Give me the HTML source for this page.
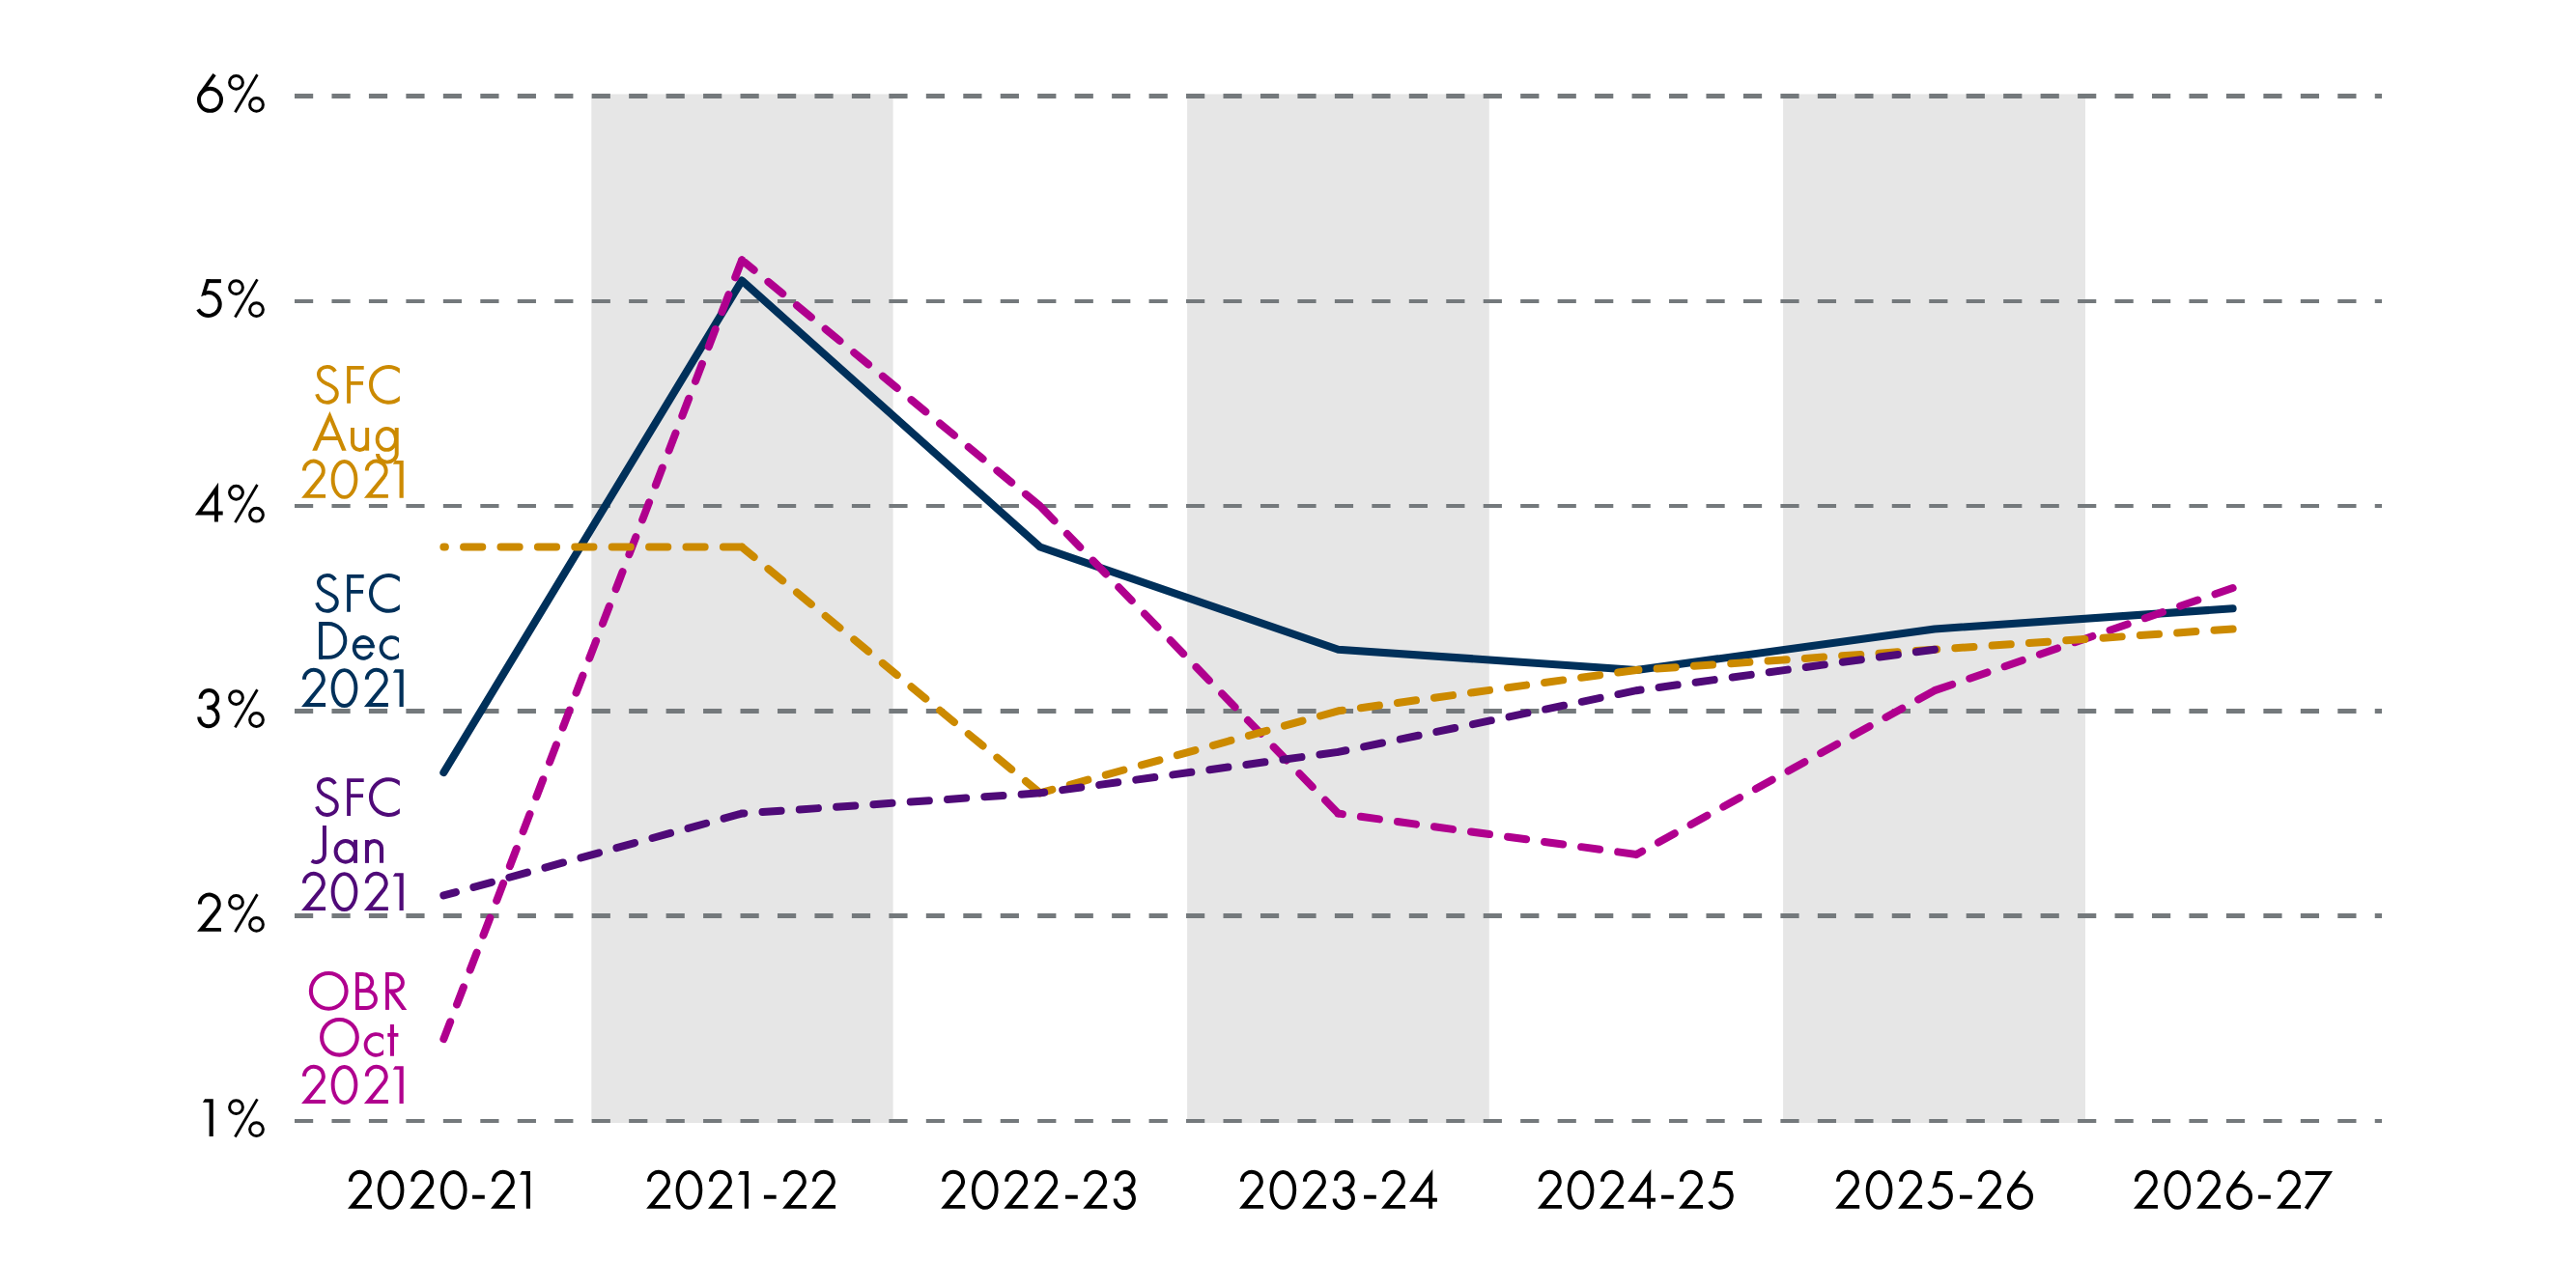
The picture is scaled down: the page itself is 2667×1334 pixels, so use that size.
<!DOCTYPE html>
<html><head><meta charset="utf-8"><style>html,body{margin:0;padding:0;background:#fff;overflow:hidden;font-family:"Liberation Sans",sans-serif}svg{display:block}</style></head><body>
<svg width="2667" height="1334" viewBox="0 0 2667 1334">
<rect x="0" y="0" width="2667" height="1334" fill="#ffffff"/>
<rect x="612.3" y="97.5" width="312.30" height="1065.5" fill="#e6e6e6"/>
<rect x="1229.1" y="97.5" width="312.70" height="1065.5" fill="#e6e6e6"/>
<rect x="1846.1" y="97.5" width="312.90" height="1065.5" fill="#e6e6e6"/>
<line x1="305.0" y1="99.50" x2="2466.0" y2="99.50" stroke="#74797c" stroke-width="5" stroke-dasharray="19.2 19.26"/>
<line x1="305.0" y1="312.00" x2="2466.0" y2="312.00" stroke="#74797c" stroke-width="4" stroke-dasharray="19.2 19.26"/>
<line x1="305.0" y1="524.00" x2="2466.0" y2="524.00" stroke="#74797c" stroke-width="4" stroke-dasharray="19.2 19.26"/>
<line x1="305.0" y1="736.50" x2="2466.0" y2="736.50" stroke="#74797c" stroke-width="5" stroke-dasharray="19.2 19.26"/>
<line x1="305.0" y1="948.50" x2="2466.0" y2="948.50" stroke="#74797c" stroke-width="5" stroke-dasharray="19.2 19.26"/>
<line x1="305.0" y1="1161.00" x2="2466.0" y2="1161.00" stroke="#74797c" stroke-width="4" stroke-dasharray="19.2 19.26"/>
<path d="M459.36,800.09 L768.07,290.57 L1076.79,566.56 L1385.50,672.71 L1694.21,693.94 L2002.93,651.48 L2311.64,630.25" fill="none" stroke="#00305a" stroke-width="8" stroke-linecap="round" stroke-linejoin="round"/>
<path d="M768.07,269.34 L459.36,1076.08 M1076.79,524.10 L768.07,269.34 M1385.50,842.55 L1076.79,524.10 M1694.21,885.01 L1385.50,842.55 M2002.93,715.17 L1694.21,885.01 M2311.64,609.02 L2002.93,715.17" fill="none" stroke="#b0008e" stroke-width="8" stroke-linecap="round" stroke-linejoin="round" stroke-dasharray="19.2 19.2"/>
<path d="M768.07,566.56 L459.36,566.56 M1076.79,821.32 L768.07,566.56 M1385.50,736.40 L1076.79,821.32 M1694.21,693.94 L1385.50,736.40 M2002.93,672.71 L1694.21,693.94 M2311.64,651.48 L2002.93,672.71" fill="none" stroke="#cc8a00" stroke-width="8" stroke-linecap="round" stroke-linejoin="round" stroke-dasharray="19.2 19.2"/>
<path d="M768.07,842.55 L459.36,927.47 M1076.79,821.32 L768.07,842.55 M1385.50,778.86 L1076.79,821.32 M1694.21,715.17 L1385.50,778.86 M2002.93,672.71 L1694.21,715.17" fill="none" stroke="#4f0a78" stroke-width="8" stroke-linecap="round" stroke-linejoin="round" stroke-dasharray="19.2 19.2"/>
<g>
<path transform="translate(204.00,115.80)" d="M1.95,-12.45 A11.55,11.55 0 1 0 25.05,-12.45 A11.55,11.55 0 1 0 1.95,-12.45 Z" fill="none" stroke="#000" stroke-width="3.9"/>
<path transform="translate(204.00,115.80)" d="M18.05,-38.64 L4.12,-19.18" fill="none" stroke="#000" stroke-width="3.9"/>
<path transform="translate(236.10,115.80)" d="M1.50,-30.37 A6.90,6.90 0 1 0 15.30,-30.37 A6.90,6.90 0 1 0 1.50,-30.37 Z" fill="none" stroke="#000" stroke-width="3.0"/>
<path transform="translate(236.10,115.80)" d="M22.50,-7.40 A6.90,6.90 0 1 0 36.30,-7.40 A6.90,6.90 0 1 0 22.50,-7.40 Z" fill="none" stroke="#000" stroke-width="3.0"/>
<path transform="translate(236.10,115.80)" d="M30.3,-38.6 L7.3,0.5" fill="none" stroke="#000" stroke-width="2.8"/>
<path transform="translate(203.00,328.00)" d="M10.65,-38.85 H25.90 V-34.89 H10.65 Z" fill="#000" fill-rule="evenodd"/>
<path transform="translate(203.00,328.00)" d="M10.65,-38.85 L14.85,-38.85 L9.60,-22.80 L5.15,-20.69 Z" fill="#000" fill-rule="evenodd"/>
<path transform="translate(203.00,328.00)" d="M7.9,-23.2 C9.3,-24.4 10.9,-24.95 12.8,-24.95 A11.95,11.95 0 1 1 2.15,-7.57" fill="none" stroke="#000" stroke-width="4.0"/>
<path transform="translate(236.10,328.00)" d="M1.50,-30.37 A6.90,6.90 0 1 0 15.30,-30.37 A6.90,6.90 0 1 0 1.50,-30.37 Z" fill="none" stroke="#000" stroke-width="3.0"/>
<path transform="translate(236.10,328.00)" d="M22.50,-7.40 A6.90,6.90 0 1 0 36.30,-7.40 A6.90,6.90 0 1 0 22.50,-7.40 Z" fill="none" stroke="#000" stroke-width="3.0"/>
<path transform="translate(236.10,328.00)" d="M30.3,-38.6 L7.3,0.5" fill="none" stroke="#000" stroke-width="2.8"/>
<path transform="translate(201.90,540.60)" d="M0.00,-7.20 L24.20,-40.74 L24.00,-11.00 L28.80,-11.00 L28.80,-7.20 L24.00,-7.20 L24.00,0.00 L20.05,0.00 L20.05,-7.20 Z M7.50,-11.00 L20.05,-28.60 L20.05,-11.00 Z" fill="#000" fill-rule="evenodd"/>
<path transform="translate(236.10,540.60)" d="M1.50,-30.37 A6.90,6.90 0 1 0 15.30,-30.37 A6.90,6.90 0 1 0 1.50,-30.37 Z" fill="none" stroke="#000" stroke-width="3.0"/>
<path transform="translate(236.10,540.60)" d="M22.50,-7.40 A6.90,6.90 0 1 0 36.30,-7.40 A6.90,6.90 0 1 0 22.50,-7.40 Z" fill="none" stroke="#000" stroke-width="3.0"/>
<path transform="translate(236.10,540.60)" d="M30.3,-38.6 L7.3,0.5" fill="none" stroke="#000" stroke-width="2.8"/>
<path transform="translate(204.20,752.90)" d="M3.4,-29.05 A8.8,8.8 0 1 1 12.2,-20.25 L10.3,-20.15" fill="none" stroke="#000" stroke-width="3.95"/>
<path transform="translate(204.20,752.90)" d="M10.3,-20.05 L11.7,-20.05 A9.65,9.65 0 1 1 2.05,-10.4" fill="none" stroke="#000" stroke-width="3.95"/>
<path transform="translate(236.10,752.90)" d="M1.50,-30.37 A6.90,6.90 0 1 0 15.30,-30.37 A6.90,6.90 0 1 0 1.50,-30.37 Z" fill="none" stroke="#000" stroke-width="3.0"/>
<path transform="translate(236.10,752.90)" d="M22.50,-7.40 A6.90,6.90 0 1 0 36.30,-7.40 A6.90,6.90 0 1 0 22.50,-7.40 Z" fill="none" stroke="#000" stroke-width="3.0"/>
<path transform="translate(236.10,752.90)" d="M30.3,-38.6 L7.3,0.5" fill="none" stroke="#000" stroke-width="2.8"/>
<path transform="translate(204.00,964.80)" d="M2.88,-28.18 A9.95,9.95 0 1 1 20.40,-21.72" fill="none" stroke="#000" stroke-width="3.95"/>
<path transform="translate(204.00,964.80)" d="M19.11,-23.27 L22.23,-20.84 L8.75,-3.83 L25.00,-3.83 L25.00,0.00 L0.00,0.00 Z" fill="#000" fill-rule="evenodd"/>
<path transform="translate(236.10,964.80)" d="M1.50,-30.37 A6.90,6.90 0 1 0 15.30,-30.37 A6.90,6.90 0 1 0 1.50,-30.37 Z" fill="none" stroke="#000" stroke-width="3.0"/>
<path transform="translate(236.10,964.80)" d="M22.50,-7.40 A6.90,6.90 0 1 0 36.30,-7.40 A6.90,6.90 0 1 0 22.50,-7.40 Z" fill="none" stroke="#000" stroke-width="3.0"/>
<path transform="translate(236.10,964.80)" d="M30.3,-38.6 L7.3,0.5" fill="none" stroke="#000" stroke-width="2.8"/>
<path transform="translate(209.90,1177.00)" d="M0.00,-35.14 L2.20,-38.77 L10.90,-38.77 L10.90,0.00 L6.70,0.00 L6.70,-35.14 Z" fill="#000" fill-rule="evenodd"/>
<path transform="translate(236.10,1177.00)" d="M1.50,-30.37 A6.90,6.90 0 1 0 15.30,-30.37 A6.90,6.90 0 1 0 1.50,-30.37 Z" fill="none" stroke="#000" stroke-width="3.0"/>
<path transform="translate(236.10,1177.00)" d="M22.50,-7.40 A6.90,6.90 0 1 0 36.30,-7.40 A6.90,6.90 0 1 0 22.50,-7.40 Z" fill="none" stroke="#000" stroke-width="3.0"/>
<path transform="translate(236.10,1177.00)" d="M30.3,-38.6 L7.3,0.5" fill="none" stroke="#000" stroke-width="2.8"/>
<path transform="translate(360.00,1251.84)" d="M2.88,-28.18 A9.95,9.95 0 1 1 20.40,-21.72" fill="none" stroke="#000" stroke-width="3.95"/>
<path transform="translate(360.00,1251.84)" d="M19.11,-23.27 L22.23,-20.84 L8.75,-3.83 L25.00,-3.83 L25.00,0.00 L0.00,0.00 Z" fill="#000" fill-rule="evenodd"/>
<path transform="translate(390.70,1251.84)" d="M1.95,-19.39 A11.90,18.45 0 1 0 25.75,-19.39 A11.90,18.45 0 1 0 1.95,-19.39 Z" fill="none" stroke="#000" stroke-width="3.9"/>
<path transform="translate(424.35,1251.84)" d="M2.88,-28.18 A9.95,9.95 0 1 1 20.40,-21.72" fill="none" stroke="#000" stroke-width="3.95"/>
<path transform="translate(424.35,1251.84)" d="M19.11,-23.27 L22.23,-20.84 L8.75,-3.83 L25.00,-3.83 L25.00,0.00 L0.00,0.00 Z" fill="#000" fill-rule="evenodd"/>
<path transform="translate(455.85,1251.84)" d="M1.95,-19.39 A11.90,18.45 0 1 0 25.75,-19.39 A11.90,18.45 0 1 0 1.95,-19.39 Z" fill="none" stroke="#000" stroke-width="3.9"/>
<path transform="translate(489.05,1251.84)" d="M0.00,-14.10 H12.75 V-10.10 H0.00 Z" fill="#000" fill-rule="evenodd"/>
<path transform="translate(508.00,1251.84)" d="M2.88,-28.18 A9.95,9.95 0 1 1 20.40,-21.72" fill="none" stroke="#000" stroke-width="3.95"/>
<path transform="translate(508.00,1251.84)" d="M19.11,-23.27 L22.23,-20.84 L8.75,-3.83 L25.00,-3.83 L25.00,0.00 L0.00,0.00 Z" fill="#000" fill-rule="evenodd"/>
<path transform="translate(538.10,1251.84)" d="M0.00,-35.14 L2.20,-38.77 L10.90,-38.77 L10.90,0.00 L6.70,0.00 L6.70,-35.14 Z" fill="#000" fill-rule="evenodd"/>
<path transform="translate(669.14,1251.84)" d="M2.88,-28.18 A9.95,9.95 0 1 1 20.40,-21.72" fill="none" stroke="#000" stroke-width="3.95"/>
<path transform="translate(669.14,1251.84)" d="M19.11,-23.27 L22.23,-20.84 L8.75,-3.83 L25.00,-3.83 L25.00,0.00 L0.00,0.00 Z" fill="#000" fill-rule="evenodd"/>
<path transform="translate(699.60,1251.84)" d="M1.95,-19.39 A11.90,18.45 0 1 0 25.75,-19.39 A11.90,18.45 0 1 0 1.95,-19.39 Z" fill="none" stroke="#000" stroke-width="3.9"/>
<path transform="translate(733.04,1251.84)" d="M2.88,-28.18 A9.95,9.95 0 1 1 20.40,-21.72" fill="none" stroke="#000" stroke-width="3.95"/>
<path transform="translate(733.04,1251.84)" d="M19.11,-23.27 L22.23,-20.84 L8.75,-3.83 L25.00,-3.83 L25.00,0.00 L0.00,0.00 Z" fill="#000" fill-rule="evenodd"/>
<path transform="translate(764.08,1251.84)" d="M0.00,-35.14 L2.20,-38.77 L10.90,-38.77 L10.90,0.00 L6.70,0.00 L6.70,-35.14 Z" fill="#000" fill-rule="evenodd"/>
<path transform="translate(790.90,1251.84)" d="M0.00,-14.10 H12.75 V-10.10 H0.00 Z" fill="#000" fill-rule="evenodd"/>
<path transform="translate(810.00,1251.84)" d="M2.88,-28.18 A9.95,9.95 0 1 1 20.40,-21.72" fill="none" stroke="#000" stroke-width="3.95"/>
<path transform="translate(810.00,1251.84)" d="M19.11,-23.27 L22.23,-20.84 L8.75,-3.83 L25.00,-3.83 L25.00,0.00 L0.00,0.00 Z" fill="#000" fill-rule="evenodd"/>
<path transform="translate(840.07,1251.84)" d="M2.88,-28.18 A9.95,9.95 0 1 1 20.40,-21.72" fill="none" stroke="#000" stroke-width="3.95"/>
<path transform="translate(840.07,1251.84)" d="M19.11,-23.27 L22.23,-20.84 L8.75,-3.83 L25.00,-3.83 L25.00,0.00 L0.00,0.00 Z" fill="#000" fill-rule="evenodd"/>
<path transform="translate(974.24,1251.84)" d="M2.88,-28.18 A9.95,9.95 0 1 1 20.40,-21.72" fill="none" stroke="#000" stroke-width="3.95"/>
<path transform="translate(974.24,1251.84)" d="M19.11,-23.27 L22.23,-20.84 L8.75,-3.83 L25.00,-3.83 L25.00,0.00 L0.00,0.00 Z" fill="#000" fill-rule="evenodd"/>
<path transform="translate(1005.87,1251.84)" d="M1.95,-19.39 A11.90,18.45 0 1 0 25.75,-19.39 A11.90,18.45 0 1 0 1.95,-19.39 Z" fill="none" stroke="#000" stroke-width="3.9"/>
<path transform="translate(1039.29,1251.84)" d="M2.88,-28.18 A9.95,9.95 0 1 1 20.40,-21.72" fill="none" stroke="#000" stroke-width="3.95"/>
<path transform="translate(1039.29,1251.84)" d="M19.11,-23.27 L22.23,-20.84 L8.75,-3.83 L25.00,-3.83 L25.00,0.00 L0.00,0.00 Z" fill="#000" fill-rule="evenodd"/>
<path transform="translate(1070.27,1251.84)" d="M2.88,-28.18 A9.95,9.95 0 1 1 20.40,-21.72" fill="none" stroke="#000" stroke-width="3.95"/>
<path transform="translate(1070.27,1251.84)" d="M19.11,-23.27 L22.23,-20.84 L8.75,-3.83 L25.00,-3.83 L25.00,0.00 L0.00,0.00 Z" fill="#000" fill-rule="evenodd"/>
<path transform="translate(1103.04,1251.84)" d="M0.00,-14.10 H12.75 V-10.10 H0.00 Z" fill="#000" fill-rule="evenodd"/>
<path transform="translate(1121.22,1251.84)" d="M2.88,-28.18 A9.95,9.95 0 1 1 20.40,-21.72" fill="none" stroke="#000" stroke-width="3.95"/>
<path transform="translate(1121.22,1251.84)" d="M19.11,-23.27 L22.23,-20.84 L8.75,-3.83 L25.00,-3.83 L25.00,0.00 L0.00,0.00 Z" fill="#000" fill-rule="evenodd"/>
<path transform="translate(1152.60,1251.84)" d="M3.4,-29.05 A8.8,8.8 0 1 1 12.2,-20.25 L10.3,-20.15" fill="none" stroke="#000" stroke-width="3.95"/>
<path transform="translate(1152.60,1251.84)" d="M10.3,-20.05 L11.7,-20.05 A9.65,9.65 0 1 1 2.05,-10.4" fill="none" stroke="#000" stroke-width="3.95"/>
<path transform="translate(1283.03,1251.84)" d="M2.88,-28.18 A9.95,9.95 0 1 1 20.40,-21.72" fill="none" stroke="#000" stroke-width="3.95"/>
<path transform="translate(1283.03,1251.84)" d="M19.11,-23.27 L22.23,-20.84 L8.75,-3.83 L25.00,-3.83 L25.00,0.00 L0.00,0.00 Z" fill="#000" fill-rule="evenodd"/>
<path transform="translate(1314.50,1251.84)" d="M1.95,-19.39 A11.90,18.45 0 1 0 25.75,-19.39 A11.90,18.45 0 1 0 1.95,-19.39 Z" fill="none" stroke="#000" stroke-width="3.9"/>
<path transform="translate(1348.03,1251.84)" d="M2.88,-28.18 A9.95,9.95 0 1 1 20.40,-21.72" fill="none" stroke="#000" stroke-width="3.95"/>
<path transform="translate(1348.03,1251.84)" d="M19.11,-23.27 L22.23,-20.84 L8.75,-3.83 L25.00,-3.83 L25.00,0.00 L0.00,0.00 Z" fill="#000" fill-rule="evenodd"/>
<path transform="translate(1379.60,1251.84)" d="M3.4,-29.05 A8.8,8.8 0 1 1 12.2,-20.25 L10.3,-20.15" fill="none" stroke="#000" stroke-width="3.95"/>
<path transform="translate(1379.60,1251.84)" d="M10.3,-20.05 L11.7,-20.05 A9.65,9.65 0 1 1 2.05,-10.4" fill="none" stroke="#000" stroke-width="3.95"/>
<path transform="translate(1412.07,1251.84)" d="M0.00,-14.10 H12.75 V-10.10 H0.00 Z" fill="#000" fill-rule="evenodd"/>
<path transform="translate(1430.03,1251.84)" d="M2.88,-28.18 A9.95,9.95 0 1 1 20.40,-21.72" fill="none" stroke="#000" stroke-width="3.95"/>
<path transform="translate(1430.03,1251.84)" d="M19.11,-23.27 L22.23,-20.84 L8.75,-3.83 L25.00,-3.83 L25.00,0.00 L0.00,0.00 Z" fill="#000" fill-rule="evenodd"/>
<path transform="translate(1459.10,1251.84)" d="M0.00,-7.20 L24.20,-40.74 L24.00,-11.00 L28.80,-11.00 L28.80,-7.20 L24.00,-7.20 L24.00,0.00 L20.05,0.00 L20.05,-7.20 Z M7.50,-11.00 L20.05,-28.60 L20.05,-11.00 Z" fill="#000" fill-rule="evenodd"/>
<path transform="translate(1591.93,1251.84)" d="M2.88,-28.18 A9.95,9.95 0 1 1 20.40,-21.72" fill="none" stroke="#000" stroke-width="3.95"/>
<path transform="translate(1591.93,1251.84)" d="M19.11,-23.27 L22.23,-20.84 L8.75,-3.83 L25.00,-3.83 L25.00,0.00 L0.00,0.00 Z" fill="#000" fill-rule="evenodd"/>
<path transform="translate(1622.71,1251.84)" d="M1.95,-19.39 A11.90,18.45 0 1 0 25.75,-19.39 A11.90,18.45 0 1 0 1.95,-19.39 Z" fill="none" stroke="#000" stroke-width="3.9"/>
<path transform="translate(1656.14,1251.84)" d="M2.88,-28.18 A9.95,9.95 0 1 1 20.40,-21.72" fill="none" stroke="#000" stroke-width="3.95"/>
<path transform="translate(1656.14,1251.84)" d="M19.11,-23.27 L22.23,-20.84 L8.75,-3.83 L25.00,-3.83 L25.00,0.00 L0.00,0.00 Z" fill="#000" fill-rule="evenodd"/>
<path transform="translate(1685.10,1251.84)" d="M0.00,-7.20 L24.20,-40.74 L24.00,-11.00 L28.80,-11.00 L28.80,-7.20 L24.00,-7.20 L24.00,0.00 L20.05,0.00 L20.05,-7.20 Z M7.50,-11.00 L20.05,-28.60 L20.05,-11.00 Z" fill="#000" fill-rule="evenodd"/>
<path transform="translate(1720.05,1251.84)" d="M0.00,-14.10 H12.75 V-10.10 H0.00 Z" fill="#000" fill-rule="evenodd"/>
<path transform="translate(1738.00,1251.84)" d="M2.88,-28.18 A9.95,9.95 0 1 1 20.40,-21.72" fill="none" stroke="#000" stroke-width="3.95"/>
<path transform="translate(1738.00,1251.84)" d="M19.11,-23.27 L22.23,-20.84 L8.75,-3.83 L25.00,-3.83 L25.00,0.00 L0.00,0.00 Z" fill="#000" fill-rule="evenodd"/>
<path transform="translate(1768.00,1251.84)" d="M10.65,-38.85 H25.90 V-34.89 H10.65 Z" fill="#000" fill-rule="evenodd"/>
<path transform="translate(1768.00,1251.84)" d="M10.65,-38.85 L14.85,-38.85 L9.60,-22.80 L5.15,-20.69 Z" fill="#000" fill-rule="evenodd"/>
<path transform="translate(1768.00,1251.84)" d="M7.9,-23.2 C9.3,-24.4 10.9,-24.95 12.8,-24.95 A11.95,11.95 0 1 1 2.15,-7.57" fill="none" stroke="#000" stroke-width="4.0"/>
<path transform="translate(1900.17,1251.84)" d="M2.88,-28.18 A9.95,9.95 0 1 1 20.40,-21.72" fill="none" stroke="#000" stroke-width="3.95"/>
<path transform="translate(1900.17,1251.84)" d="M19.11,-23.27 L22.23,-20.84 L8.75,-3.83 L25.00,-3.83 L25.00,0.00 L0.00,0.00 Z" fill="#000" fill-rule="evenodd"/>
<path transform="translate(1931.73,1251.84)" d="M1.95,-19.39 A11.90,18.45 0 1 0 25.75,-19.39 A11.90,18.45 0 1 0 1.95,-19.39 Z" fill="none" stroke="#000" stroke-width="3.9"/>
<path transform="translate(1965.10,1251.84)" d="M2.88,-28.18 A9.95,9.95 0 1 1 20.40,-21.72" fill="none" stroke="#000" stroke-width="3.95"/>
<path transform="translate(1965.10,1251.84)" d="M19.11,-23.27 L22.23,-20.84 L8.75,-3.83 L25.00,-3.83 L25.00,0.00 L0.00,0.00 Z" fill="#000" fill-rule="evenodd"/>
<path transform="translate(1995.16,1251.84)" d="M10.65,-38.85 H25.90 V-34.89 H10.65 Z" fill="#000" fill-rule="evenodd"/>
<path transform="translate(1995.16,1251.84)" d="M10.65,-38.85 L14.85,-38.85 L9.60,-22.80 L5.15,-20.69 Z" fill="#000" fill-rule="evenodd"/>
<path transform="translate(1995.16,1251.84)" d="M7.9,-23.2 C9.3,-24.4 10.9,-24.95 12.8,-24.95 A11.95,11.95 0 1 1 2.15,-7.57" fill="none" stroke="#000" stroke-width="4.0"/>
<path transform="translate(2028.97,1251.84)" d="M0.00,-14.10 H12.75 V-10.10 H0.00 Z" fill="#000" fill-rule="evenodd"/>
<path transform="translate(2047.09,1251.84)" d="M2.88,-28.18 A9.95,9.95 0 1 1 20.40,-21.72" fill="none" stroke="#000" stroke-width="3.95"/>
<path transform="translate(2047.09,1251.84)" d="M19.11,-23.27 L22.23,-20.84 L8.75,-3.83 L25.00,-3.83 L25.00,0.00 L0.00,0.00 Z" fill="#000" fill-rule="evenodd"/>
<path transform="translate(2077.97,1251.84)" d="M1.95,-12.45 A11.55,11.55 0 1 0 25.05,-12.45 A11.55,11.55 0 1 0 1.95,-12.45 Z" fill="none" stroke="#000" stroke-width="3.9"/>
<path transform="translate(2077.97,1251.84)" d="M18.05,-38.64 L4.12,-19.18" fill="none" stroke="#000" stroke-width="3.9"/>
<path transform="translate(2208.97,1251.84)" d="M2.88,-28.18 A9.95,9.95 0 1 1 20.40,-21.72" fill="none" stroke="#000" stroke-width="3.95"/>
<path transform="translate(2208.97,1251.84)" d="M19.11,-23.27 L22.23,-20.84 L8.75,-3.83 L25.00,-3.83 L25.00,0.00 L0.00,0.00 Z" fill="#000" fill-rule="evenodd"/>
<path transform="translate(2240.56,1251.84)" d="M1.95,-19.39 A11.90,18.45 0 1 0 25.75,-19.39 A11.90,18.45 0 1 0 1.95,-19.39 Z" fill="none" stroke="#000" stroke-width="3.9"/>
<path transform="translate(2274.08,1251.84)" d="M2.88,-28.18 A9.95,9.95 0 1 1 20.40,-21.72" fill="none" stroke="#000" stroke-width="3.95"/>
<path transform="translate(2274.08,1251.84)" d="M19.11,-23.27 L22.23,-20.84 L8.75,-3.83 L25.00,-3.83 L25.00,0.00 L0.00,0.00 Z" fill="#000" fill-rule="evenodd"/>
<path transform="translate(2305.00,1251.84)" d="M1.95,-12.45 A11.55,11.55 0 1 0 25.05,-12.45 A11.55,11.55 0 1 0 1.95,-12.45 Z" fill="none" stroke="#000" stroke-width="3.9"/>
<path transform="translate(2305.00,1251.84)" d="M18.05,-38.64 L4.12,-19.18" fill="none" stroke="#000" stroke-width="3.9"/>
<path transform="translate(2338.10,1251.84)" d="M0.00,-14.10 H12.75 V-10.10 H0.00 Z" fill="#000" fill-rule="evenodd"/>
<path transform="translate(2357.05,1251.84)" d="M2.88,-28.18 A9.95,9.95 0 1 1 20.40,-21.72" fill="none" stroke="#000" stroke-width="3.95"/>
<path transform="translate(2357.05,1251.84)" d="M19.11,-23.27 L22.23,-20.84 L8.75,-3.83 L25.00,-3.83 L25.00,0.00 L0.00,0.00 Z" fill="#000" fill-rule="evenodd"/>
<path transform="translate(2385.90,1251.84)" d="M0.80,-38.84 L29.15,-38.84 L3.50,0.96 L0.00,-1.14 L22.20,-34.89 L0.80,-34.89 Z" fill="#000" fill-rule="evenodd"/>
<path transform="translate(326.04,417.75)" d="M20.96,-33.02 C19.2,-36.2 16.2,-37.92 12.76,-37.92 C7.6,-37.92 3.86,-34.5 3.86,-30.02 C3.86,-25.0 7.5,-22.6 12.26,-20.32 C17.5,-17.8 22.76,-15.6 22.76,-10.32 C22.76,-4.8 18.2,-0.92 12.46,-0.92 C7.6,-0.92 3.6,-4.3 2.01,-9.52" fill="none" stroke="#cc8a00" stroke-width="3.9"/>
<path transform="translate(359.14,417.75)" d="M0.00,-38.75 L17.56,-38.75 L17.56,-35.00 L3.84,-35.00 L3.84,-22.82 L16.86,-22.82 L16.86,-18.97 L3.84,-18.97 L3.84,0.00 L0.00,0.00 Z" fill="#cc8a00" fill-rule="evenodd"/>
<path transform="translate(381.95,417.75)" d="M31.90,-36.23 A20.40,20.40 0 1 0 31.90,-2.53 L31.90,-7.76 A16.35,16.35 0 1 1 31.90,-31.00 Z" fill="#cc8a00" fill-rule="evenodd"/>
<path transform="translate(323.23,466.72)" d="M0.00,0.00 L18.24,-40.76 L35.44,0.00 L30.82,0.00 L26.46,-10.69 L9.57,-10.69 L4.97,0.00 Z M18.24,-30.82 L24.84,-14.66 L11.28,-14.66 Z" fill="#cc8a00" fill-rule="evenodd"/>
<path transform="translate(362.99,466.72)" d="M1.99,-23.76 L1.99,-8.33 A7.58,7.58 0 0 0 17.15,-8.33" fill="none" stroke="#cc8a00" stroke-width="3.98"/>
<path transform="translate(362.99,466.72)" d="M17.15,-23.76 L17.15,0" fill="none" stroke="#cc8a00" stroke-width="3.98"/>
<path transform="translate(388.84,466.72)" d="M1.76,-11.82 A9.70,11.00 0 1 0 21.16,-11.82 A9.70,11.00 0 1 0 1.76,-11.82 Z" fill="none" stroke="#cc8a00" stroke-width="3.8"/>
<path transform="translate(388.84,466.72)" d="M21.87,-23.76 L21.87,3.3 A9.87,8.6 0 0 1 2.13,3.3" fill="none" stroke="#cc8a00" stroke-width="3.95"/>
<path transform="translate(312.05,515.80)" d="M2.88,-28.18 A9.95,9.95 0 1 1 20.40,-21.72" fill="none" stroke="#cc8a00" stroke-width="3.95"/>
<path transform="translate(312.05,515.80)" d="M19.11,-23.27 L22.23,-20.84 L8.75,-3.83 L25.00,-3.83 L25.00,0.00 L0.00,0.00 Z" fill="#cc8a00" fill-rule="evenodd"/>
<path transform="translate(342.67,515.80)" d="M1.95,-19.39 A11.90,18.45 0 1 0 25.75,-19.39 A11.90,18.45 0 1 0 1.95,-19.39 Z" fill="none" stroke="#cc8a00" stroke-width="3.9"/>
<path transform="translate(376.90,515.80)" d="M2.88,-28.18 A9.95,9.95 0 1 1 20.40,-21.72" fill="none" stroke="#cc8a00" stroke-width="3.95"/>
<path transform="translate(376.90,515.80)" d="M19.11,-23.27 L22.23,-20.84 L8.75,-3.83 L25.00,-3.83 L25.00,0.00 L0.00,0.00 Z" fill="#cc8a00" fill-rule="evenodd"/>
<path transform="translate(406.83,515.80)" d="M0.00,-35.14 L2.20,-38.77 L10.90,-38.77 L10.90,0.00 L6.70,0.00 L6.70,-35.14 Z" fill="#cc8a00" fill-rule="evenodd"/>
<path transform="translate(326.04,633.82)" d="M20.96,-33.02 C19.2,-36.2 16.2,-37.92 12.76,-37.92 C7.6,-37.92 3.86,-34.5 3.86,-30.02 C3.86,-25.0 7.5,-22.6 12.26,-20.32 C17.5,-17.8 22.76,-15.6 22.76,-10.32 C22.76,-4.8 18.2,-0.92 12.46,-0.92 C7.6,-0.92 3.6,-4.3 2.01,-9.52" fill="none" stroke="#00305a" stroke-width="3.9"/>
<path transform="translate(359.14,633.82)" d="M0.00,-38.75 L17.56,-38.75 L17.56,-35.00 L3.84,-35.00 L3.84,-22.82 L16.86,-22.82 L16.86,-18.97 L3.84,-18.97 L3.84,0.00 L0.00,0.00 Z" fill="#00305a" fill-rule="evenodd"/>
<path transform="translate(381.95,633.82)" d="M31.90,-36.23 A20.40,20.40 0 1 0 31.90,-2.53 L31.90,-7.76 A16.35,16.35 0 1 1 31.90,-31.00 Z" fill="#00305a" fill-rule="evenodd"/>
<path transform="translate(330.07,682.81)" d="M0.00,-38.75 H4.04 V0.00 H0.00 Z" fill="#00305a" fill-rule="evenodd"/>
<path transform="translate(330.07,682.81)" d="M1,-36.83 L9.73,-36.83 A17.05,16.95 0 0 1 9.73,-1.9 L1,-1.9" fill="none" stroke="#00305a" stroke-width="3.85"/>
<path transform="translate(364.80,682.81)" d="M21.02,-13.2 A9.6,10.9 0 1 0 20.20,-7.20" fill="none" stroke="#00305a" stroke-width="3.8"/>
<path transform="translate(364.80,682.81)" d="M2.0,-13.2 L23.0,-13.2" fill="none" stroke="#00305a" stroke-width="3.4"/>
<path transform="translate(392.65,682.81)" d="M20.35,-22.15 A12.80,12.80 0 1 0 20.35,-1.47 L20.35,-6.91 A9.00,9.00 0 1 1 20.35,-16.71 Z" fill="#00305a" fill-rule="evenodd"/>
<path transform="translate(312.05,731.93)" d="M2.88,-28.18 A9.95,9.95 0 1 1 20.40,-21.72" fill="none" stroke="#00305a" stroke-width="3.95"/>
<path transform="translate(312.05,731.93)" d="M19.11,-23.27 L22.23,-20.84 L8.75,-3.83 L25.00,-3.83 L25.00,0.00 L0.00,0.00 Z" fill="#00305a" fill-rule="evenodd"/>
<path transform="translate(342.67,731.93)" d="M1.95,-19.39 A11.90,18.45 0 1 0 25.75,-19.39 A11.90,18.45 0 1 0 1.95,-19.39 Z" fill="none" stroke="#00305a" stroke-width="3.9"/>
<path transform="translate(376.90,731.93)" d="M2.88,-28.18 A9.95,9.95 0 1 1 20.40,-21.72" fill="none" stroke="#00305a" stroke-width="3.95"/>
<path transform="translate(376.90,731.93)" d="M19.11,-23.27 L22.23,-20.84 L8.75,-3.83 L25.00,-3.83 L25.00,0.00 L0.00,0.00 Z" fill="#00305a" fill-rule="evenodd"/>
<path transform="translate(406.83,731.93)" d="M0.00,-35.14 L2.20,-38.77 L10.90,-38.77 L10.90,0.00 L6.70,0.00 L6.70,-35.14 Z" fill="#00305a" fill-rule="evenodd"/>
<path transform="translate(326.04,844.95)" d="M20.96,-33.02 C19.2,-36.2 16.2,-37.92 12.76,-37.92 C7.6,-37.92 3.86,-34.5 3.86,-30.02 C3.86,-25.0 7.5,-22.6 12.26,-20.32 C17.5,-17.8 22.76,-15.6 22.76,-10.32 C22.76,-4.8 18.2,-0.92 12.46,-0.92 C7.6,-0.92 3.6,-4.3 2.01,-9.52" fill="none" stroke="#4f0a78" stroke-width="3.9"/>
<path transform="translate(359.14,844.95)" d="M0.00,-38.75 L17.56,-38.75 L17.56,-35.00 L3.84,-35.00 L3.84,-22.82 L16.86,-22.82 L16.86,-18.97 L3.84,-18.97 L3.84,0.00 L0.00,0.00 Z" fill="#4f0a78" fill-rule="evenodd"/>
<path transform="translate(381.95,844.95)" d="M31.90,-36.23 A20.40,20.40 0 1 0 31.90,-2.53 L31.90,-7.76 A16.35,16.35 0 1 1 31.90,-31.00 Z" fill="#4f0a78" fill-rule="evenodd"/>
<path transform="translate(322.80,893.87)" d="M13.13,-38.82 L13.13,-9.47 A8.43,8.43 0 0 1 -0.14,-2.56" fill="none" stroke="#4f0a78" stroke-width="4.0"/>
<path transform="translate(345.50,893.87)" d="M2.10,-12.07 A10.20,10.90 0 1 0 22.50,-12.07 A10.20,10.90 0 1 0 2.10,-12.07 Z" fill="none" stroke="#4f0a78" stroke-width="4.0"/>
<path transform="translate(345.50,893.87)" d="M22.52,-24.07 L22.52,0" fill="none" stroke="#4f0a78" stroke-width="3.9"/>
<path transform="translate(377.90,893.87)" d="M2.05,-23.87 L2.05,0" fill="none" stroke="#4f0a78" stroke-width="4.05"/>
<path transform="translate(377.90,893.87)" d="M2.05,-15.27 A7.55,7.55 0 0 1 17.15,-15.27 L17.15,0" fill="none" stroke="#4f0a78" stroke-width="4.05"/>
<path transform="translate(312.05,943.00)" d="M2.88,-28.18 A9.95,9.95 0 1 1 20.40,-21.72" fill="none" stroke="#4f0a78" stroke-width="3.95"/>
<path transform="translate(312.05,943.00)" d="M19.11,-23.27 L22.23,-20.84 L8.75,-3.83 L25.00,-3.83 L25.00,0.00 L0.00,0.00 Z" fill="#4f0a78" fill-rule="evenodd"/>
<path transform="translate(342.67,943.00)" d="M1.95,-19.39 A11.90,18.45 0 1 0 25.75,-19.39 A11.90,18.45 0 1 0 1.95,-19.39 Z" fill="none" stroke="#4f0a78" stroke-width="3.9"/>
<path transform="translate(376.90,943.00)" d="M2.88,-28.18 A9.95,9.95 0 1 1 20.40,-21.72" fill="none" stroke="#4f0a78" stroke-width="3.95"/>
<path transform="translate(376.90,943.00)" d="M19.11,-23.27 L22.23,-20.84 L8.75,-3.83 L25.00,-3.83 L25.00,0.00 L0.00,0.00 Z" fill="#4f0a78" fill-rule="evenodd"/>
<path transform="translate(406.83,943.00)" d="M0.00,-35.14 L2.20,-38.77 L10.90,-38.77 L10.90,0.00 L6.70,0.00 L6.70,-35.14 Z" fill="#4f0a78" fill-rule="evenodd"/>
<path transform="translate(319.84,1045.90)" d="M2.04,-19.53 A18.35,18.35 0 1 0 38.74,-19.53 A18.35,18.35 0 1 0 2.04,-19.53 Z" fill="none" stroke="#b0008e" stroke-width="4.1"/>
<path transform="translate(368.00,1045.90)" d="M0.00,-38.85 H3.94 V0.00 H0.00 Z" fill="#b0008e" fill-rule="evenodd"/>
<path transform="translate(368.00,1045.90)" d="M1,-36.92 L7.35,-36.92 A9.9,8.585 0 0 1 7.35,-19.75 L1,-19.75" fill="none" stroke="#b0008e" stroke-width="3.8"/>
<path transform="translate(368.00,1045.90)" d="M1,-19.8 L11.6,-19.8 A9.4,8.94 0 0 1 11.6,-1.92 L1,-1.92" fill="none" stroke="#b0008e" stroke-width="3.85"/>
<path transform="translate(399.05,1045.90)" d="M0.00,-38.85 H3.85 V0.00 H0.00 Z" fill="#b0008e" fill-rule="evenodd"/>
<path transform="translate(399.05,1045.90)" d="M1,-36.92 L8.5,-36.92 A9.4,8.76 0 0 1 8.5,-19.4 L1,-19.4" fill="none" stroke="#b0008e" stroke-width="3.85"/>
<path transform="translate(399.05,1045.90)" d="M3.85,-18.10 L9.60,-17.93 L22.20,0.00 L17.05,0.00 Z" fill="#b0008e" fill-rule="evenodd"/>
<path transform="translate(331.05,1093.82)" d="M2.04,-19.53 A18.35,18.35 0 1 0 38.74,-19.53 A18.35,18.35 0 1 0 2.04,-19.53 Z" fill="none" stroke="#b0008e" stroke-width="4.1"/>
<path transform="translate(376.67,1093.82)" d="M20.35,-22.15 A12.80,12.80 0 1 0 20.35,-1.47 L20.35,-6.91 A9.00,9.00 0 1 1 20.35,-16.71 Z" fill="#b0008e" fill-rule="evenodd"/>
<path transform="translate(401.30,1093.82)" d="M2.60,-32.92 L6.65,-32.92 L6.65,-23.82 L11.10,-23.82 L11.10,-19.98 L6.65,-19.98 L6.65,0.00 L2.60,0.00 L2.60,-19.98 L0.00,-19.98 L0.00,-23.82 L2.60,-23.82 Z" fill="#b0008e" fill-rule="evenodd"/>
<path transform="translate(312.05,1142.90)" d="M2.88,-28.18 A9.95,9.95 0 1 1 20.40,-21.72" fill="none" stroke="#b0008e" stroke-width="3.95"/>
<path transform="translate(312.05,1142.90)" d="M19.11,-23.27 L22.23,-20.84 L8.75,-3.83 L25.00,-3.83 L25.00,0.00 L0.00,0.00 Z" fill="#b0008e" fill-rule="evenodd"/>
<path transform="translate(342.67,1142.90)" d="M1.95,-19.39 A11.90,18.45 0 1 0 25.75,-19.39 A11.90,18.45 0 1 0 1.95,-19.39 Z" fill="none" stroke="#b0008e" stroke-width="3.9"/>
<path transform="translate(376.90,1142.90)" d="M2.88,-28.18 A9.95,9.95 0 1 1 20.40,-21.72" fill="none" stroke="#b0008e" stroke-width="3.95"/>
<path transform="translate(376.90,1142.90)" d="M19.11,-23.27 L22.23,-20.84 L8.75,-3.83 L25.00,-3.83 L25.00,0.00 L0.00,0.00 Z" fill="#b0008e" fill-rule="evenodd"/>
<path transform="translate(406.83,1142.90)" d="M0.00,-35.14 L2.20,-38.77 L10.90,-38.77 L10.90,0.00 L6.70,0.00 L6.70,-35.14 Z" fill="#b0008e" fill-rule="evenodd"/>
</g>
</svg>
</body></html>
